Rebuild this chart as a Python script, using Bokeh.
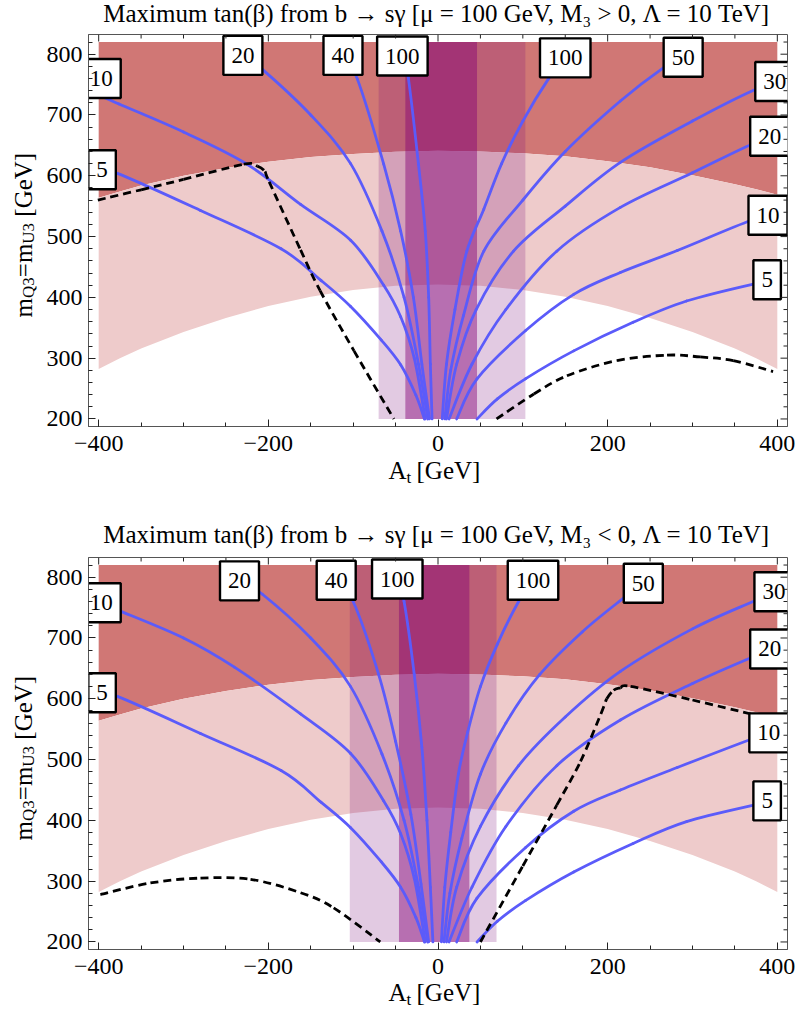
import math
from bokeh.plotting import figure
from bokeh.models import Range1d, SingleIntervalTicker
from bokeh.layouts import column, row
from bokeh.embed import file_html
from bokeh.resources import INLINE
from bokeh.core.properties import value

# ---------------- data ----------------
# Higgs-mass band boundaries (shared by both panels)
mh_x    = [-400, -375, -350, -300, -250, -200, -150, -100, -50, 0, 50, 100, 150, 200, 250, 300, 350, 375, 400]
mh_low  = [282, 300, 316, 343, 366, 386, 401, 412, 419, 421, 419, 412, 401, 386, 366, 343, 316, 300, 282]
mh_high = [564, 574, 584, 600, 613, 623, 631, 636, 639.5, 641, 640, 637, 632, 624, 614, 601, 586, 578, 569]
m_top = 820
band_y = [200, 820]

# vertical bands (A_t ranges)
top_wide = [-70, 103]
top_narrow = [-38.5, 46]
bot_wide = [-104, 69]
bot_narrow = [-46, 37]

# ---- upper panel (M3 > 0): tan(beta) contours ----
tL5_x = [-400, -378, -280, -185, -138, -103, -67, -44, -26, -16]
tL5_m = [607, 604, 543, 480, 428, 385, 330, 289, 239, 200]
tL10_x = [-400, -376, -300, -225, -162, -103, -64, -44, -28, -15]
tL10_m = [733, 718, 672, 619, 553, 494, 420, 368, 300, 200]
tL20_x = [-232, -207, -150, -103, -66, -40, -23, -12]
tL20_m = [800, 775, 700, 620, 509, 400, 290, 200]
tL40_x = [-112, -95, -64, -44, -29, -19, -10]
tL40_m = [798, 759, 619, 509, 400, 290, 200]
tL100_x = [-42, -35, -23, -15, -11, -9, -7]
tL100_m = [797, 761, 619, 509, 400, 290, 200]
tR100_x = [150, 130, 100, 75, 54, 34, 20, 10, 5]
tR100_m = [794, 759, 690, 620, 545, 476, 380, 290, 200]
tR50_x = [289, 266, 215, 150, 100, 54, 30, 15, 8]
tR50_m = [795, 778, 723, 640, 560, 476, 370, 280, 200]
tR30_x = [400, 374, 300, 215, 150, 89, 45, 22, 10]
tR30_m = [752, 742, 690, 622, 550, 476, 380, 290, 200]
tR20_x = [400, 370, 300, 215, 140, 80, 40, 13]
tR20_m = [664, 652, 605, 548, 476, 380, 290, 200]
tR10_x = [400, 368, 282, 215, 160, 103, 46, 22]
tR10_m = [535, 526, 477, 441, 405, 345, 266, 200]
tR5_x = [400, 372, 293, 230, 160, 103, 70, 46]
tR5_m = [428, 422, 394, 359, 312, 266, 233, 200]
# b -> s gamma limit (dashed)
tD1_x = [-401, -350, -300, -229, -213, -204, -199, -162, -139, -99, -52]
tD1_m = [560, 577, 594, 619, 616, 607, 590, 478, 411, 312, 200]
tD2_x = [69, 113, 152, 211, 270, 309, 348, 395]
tD2_m = [200, 241, 271, 296, 305, 302, 296, 278]
# contour labels
t_lab = ["10", "5", "20", "40", "100", "100", "50", "30", "20", "10", "5"]
t_lab_x = [-397, -396, -230, -112, -42, 150, 289, 397, 391, 389, 388]
t_lab_m = [760, 610, 798, 798, 797, 794, 795, 755, 665, 535, 429]

# ---- lower panel (M3 < 0) ----
bL5_x = [-400, -378, -280, -185, -138, -103, -67, -44, -26, -16]
bL5_m = [607, 604, 543, 482, 430, 388, 332, 290, 240, 200]
bL10_x = [-400, -376, -300, -240, -162, -103, -64, -44, -28, -15]
bL10_m = [758, 745, 700, 652, 575, 510, 432, 378, 305, 200]
bL20_x = [-234, -207, -150, -103, -66, -40, -23, -12]
bL20_m = [794, 772, 700, 620, 509, 400, 290, 200]
bL40_x = [-120, -100, -70, -50, -32, -20, -11]
bL40_m = [795, 760, 640, 530, 410, 295, 200]
bL100_x = [-48, -40, -28, -19, -13, -9, -6]
bL100_m = [797, 760, 640, 520, 400, 290, 200]
bR100_x = [112, 95, 70, 50, 35, 24, 15, 8, 4]
bR100_m = [795, 760, 690, 620, 545, 476, 380, 290, 200]
bR50_x = [242, 219, 170, 120, 80, 50, 28, 14, 7]
bR50_m = [790, 766, 710, 640, 560, 476, 370, 280, 200]
bR30_x = [400, 373, 300, 215, 150, 95, 50, 22, 10]
bR30_m = [778, 761, 715, 645, 570, 490, 390, 290, 200]
bR20_x = [400, 375, 300, 215, 140, 80, 40, 13]
bR20_m = [684, 671, 625, 565, 490, 390, 290, 200]
bR10_x = [400, 374, 282, 215, 160, 103, 46, 22]
bR10_m = [546, 536, 487, 450, 415, 355, 272, 200]
bR5_x = [400, 378, 293, 230, 160, 103, 70, 46]
bR5_m = [434, 427, 398, 362, 315, 268, 234, 200]
bD1_x = [-398, -339, -280, -221, -162, -123, -68]
bD1_m = [278, 297, 305, 303, 281, 256, 200]
bD2_x = [50, 100, 140, 168, 192, 199, 207, 215, 227, 300, 372, 400]
bD2_m = [200, 325, 425, 497, 575, 600, 614, 618, 620.5, 598, 574, 566]
b_lab = ["10", "5", "20", "40", "100", "100", "50", "30", "20", "10", "5"]
b_lab_x = [-397, -396, -234, -120, -48, 112, 242, 396, 391, 390, 388]
b_lab_m = [758, 610, 794, 795, 797, 795, 790, 776, 682, 544, 432]

titles = ["Maximum tan(\u03b2) from b \u2192 s\u03b3 [\u03bc = 100 GeV, M\u2083 > 0, \u039b = 10 TeV]",
          "Maximum tan(\u03b2) from b \u2192 s\u03b3 [\u03bc = 100 GeV, M\u2083 < 0, \u039b = 10 TeV]"]

# ---------------- styling / layout ----------------
X0, X1 = -412.0, 412.0
Y0, Y1 = 187.6, 832.4
FW, FH = 699, 392
PAGE_W = 795
YLAB_W = 40
BORDER_L = 48
BORDER_R = PAGE_W - YLAB_W - BORDER_L - FW
BORDER_T = 4
BORDER_B = 36
MAIN_H = BORDER_T + FH + BORDER_B
OVERLAP = 12   # the x-label strip slides up under the tick-label band (transparent)
MID = 0.3375   # distance of the em-box middle above the baseline (fraction of font size)

DARK = "#D07775"
PINK = "#EECBCB"
WIDE = "#7B0E7B"
NARROW = "#830175"
BLUE = "#5B5BFA"
FRAME = "#555555"
TICK = "#222222"
SERIF = "Liberation Serif"


def text_fig(w, h, items, transparent=False):
    """A bare figure used only to hold text (pixel coordinates, y from top, y = baseline)."""
    f = figure(title=None, frame_width=w, frame_height=h, x_range=Range1d(0, w), y_range=Range1d(0, h),
               output_backend="svg", toolbar_location=None, x_axis_type=None, y_axis_type=None,
               min_border=0, min_border_left=0, min_border_right=0, min_border_top=0, min_border_bottom=0)
    f.grid.visible = False
    f.outline_line_color = None
    if transparent:
        f.background_fill_color = None
        f.border_fill_color = None
    for txt, x, y, size, align, angle in items:
        dx = -MID * size * math.sin(angle)
        dy = -MID * size * math.cos(angle)
        f.text(x=[x + dx], y=[h - (y + dy)], text=[txt], text_font=value(SERIF), text_font_size=f"{size}px",
               text_align=align, text_baseline="middle", angle=angle, text_color="black")
    return f


def smooth(p, xs, ys, **kw):
    """Draw a smooth curve through the read points (Catmull-Rom as cubic Bezier segments)."""
    n = len(xs)
    a = {"x0": [], "y0": [], "x1": [], "y1": [], "cx0": [], "cy0": [], "cx1": [], "cy1": []}
    for i in range(n - 1):
        i0 = max(i - 1, 0)
        i3 = min(i + 2, n - 1)
        a["x0"].append(xs[i]); a["y0"].append(ys[i])
        a["x1"].append(xs[i + 1]); a["y1"].append(ys[i + 1])
        a["cx0"].append(xs[i] + (xs[i + 1] - xs[i0]) / 6.0)
        a["cy0"].append(ys[i] + (ys[i + 1] - ys[i0]) / 6.0)
        a["cx1"].append(xs[i + 1] - (xs[i3] - xs[i]) / 6.0)
        a["cy1"].append(ys[i + 1] - (ys[i3] - ys[i]) / 6.0)
    p.bezier(**a, **kw)


def make_main(wide, narrow, curves, dashes, labs, labx, labm):
    p = figure(title=None, frame_width=FW, frame_height=FH, x_range=Range1d(X0, X1), y_range=Range1d(Y0, Y1),
               output_backend="svg", toolbar_location=None,
               min_border_left=BORDER_L, min_border_right=BORDER_R,
               min_border_top=BORDER_T, min_border_bottom=BORDER_B)
    p.grid.visible = False
    p.outline_line_color = FRAME
    p.background_fill_color = "white"

    up_x = mh_x + mh_x[::-1]
    up_y = mh_high + [m_top] * len(mh_x)
    p.patch(up_x, up_y, fill_color=DARK, line_color=None)
    pk_x = mh_x + mh_x[::-1]
    pk_y = mh_low + mh_high[::-1]
    p.patch(pk_x, pk_y, fill_color=PINK, line_color=None)
    p.quad(left=[wide[0]], right=[wide[1]], bottom=[band_y[0]], top=[band_y[1]],
           fill_color=WIDE, fill_alpha=0.22, line_color=None)
    p.quad(left=[narrow[0]], right=[narrow[1]], bottom=[band_y[0]], top=[band_y[1]],
           fill_color=NARROW, fill_alpha=0.45, line_color=None)

    for cx, cy in curves:
        smooth(p, cx, cy, line_color=BLUE, line_width=2.8, line_cap="round")
    for cx, cy in dashes:
        smooth(p, cx, cy, line_color="black", line_width=2.8, line_dash="8 5")

    widths = [16 + 11.5 * len(t) for t in labs]
    p.rect(x=labx, y=labm, width=widths, height=[39] * len(labs), width_units="screen",
           height_units="screen", fill_color="white", line_color="black", line_width=2.4)
    p.text(x=labx, y=labm, text=labs, text_font=value(SERIF), text_font_size="23px",
           text_align="center", text_baseline="middle", text_color="black")

    for ax in p.xaxis:
        ax.ticker = SingleIntervalTicker(interval=200, num_minor_ticks=4)
        ax.major_label_overrides = {-400: "\u2212400", -200: "\u2212200"}
    for ax in p.yaxis:
        ax.ticker = SingleIntervalTicker(interval=100, num_minor_ticks=5)
    for ax in p.xaxis + p.yaxis:
        ax.major_tick_in = 7
        ax.major_tick_out = 0
        ax.minor_tick_in = 4
        ax.minor_tick_out = 0
        ax.axis_line_color = FRAME
        ax.major_tick_line_color = TICK
        ax.minor_tick_line_color = TICK
        ax.major_label_text_font = SERIF
        ax.major_label_text_font_size = "24px"
        ax.major_label_text_color = "black"
    p.xaxis.major_label_standoff = 9
    p.yaxis.major_label_standoff = 6

    # mirrored tick marks on the top and right frame edges (same tick spacing as the axes)
    xt = list(range(-400, 401, 50))
    yt = list(range(200, 821, 20))
    p.ray(x=xt, y=[Y1] * len(xt), length=[7 if v % 200 == 0 else 4 for v in xt],
          angle=-math.pi / 2, length_units="screen", line_color=TICK, line_width=1)
    p.ray(x=[X1] * len(yt), y=yt, length=[7 if v % 100 == 0 else 4 for v in yt],
          angle=math.pi, length_units="screen", line_color=TICK, line_width=1)
    return p


def ylabel_fig():
    # m_Q3 = m_U3 [GeV], rotated, reading upwards; positions in pixels of this strip
    yb = 313 - 30
    pieces = [("m", 31, yb, 25), ("Q3", 33.5, yb - 19.5, 17), ("=m", 31, yb - 40.3, 25),
              ("U3", 33.5, yb - 73.8, 17), ("[GeV]", 31, yb - 100.8, 25)]
    items = [(t, x, y, s, "left", math.pi / 2) for t, x, y, s in pieces]
    return text_fig(YLAB_W, MAIN_H, items)


def xlabel_fig(h, base):
    items = [("A", 388, base, 25, "left", 0), ("t", 406, base + 5, 17, "left", 0),
             ("[GeV]", 416, base, 25, "left", 0)]
    f = text_fig(PAGE_W, h, items, transparent=True)
    f.margin = (-OVERLAP, 0, 0, 0)
    return f


top_curves = [(tL5_x, tL5_m), (tL10_x, tL10_m), (tL20_x, tL20_m), (tL40_x, tL40_m), (tL100_x, tL100_m),
              (tR100_x, tR100_m), (tR50_x, tR50_m), (tR30_x, tR30_m), (tR20_x, tR20_m),
              (tR10_x, tR10_m), (tR5_x, tR5_m)]
bot_curves = [(bL5_x, bL5_m), (bL10_x, bL10_m), (bL20_x, bL20_m), (bL40_x, bL40_m), (bL100_x, bL100_m),
              (bR100_x, bR100_m), (bR50_x, bR50_m), (bR30_x, bR30_m), (bR20_x, bR20_m),
              (bR10_x, bR10_m), (bR5_x, bR5_m)]

# page rows: title 0-30, panel 30-462, x label strip 450-522 (overlapping), title 522-553, panel 553-985, strip 973-1014
t1 = text_fig(PAGE_W, 30, [(titles[0], 436, 21.5, 25, "center", 0)])
m1 = make_main(top_wide, top_narrow, top_curves, [(tD1_x, tD1_m), (tD2_x, tD2_m)], t_lab, t_lab_x, t_lab_m)
x1 = xlabel_fig(522 - (30 + MAIN_H - OVERLAP), 478 - (30 + MAIN_H - OVERLAP))
t2 = text_fig(PAGE_W, 31, [(titles[1], 436, 20, 25, "center", 0)])
m2 = make_main(bot_wide, bot_narrow, bot_curves, [(bD1_x, bD1_m), (bD2_x, bD2_m)], b_lab, b_lab_x, b_lab_m)
x2 = xlabel_fig(1014 - (553 + MAIN_H - OVERLAP), 1000 - (553 + MAIN_H - OVERLAP))

layout = column(t1, row(ylabel_fig(), m1, spacing=0), x1,
                t2, row(ylabel_fig(), m2, spacing=0), x2, spacing=0)
open("out.html", "w").write(file_html(layout, INLINE))
